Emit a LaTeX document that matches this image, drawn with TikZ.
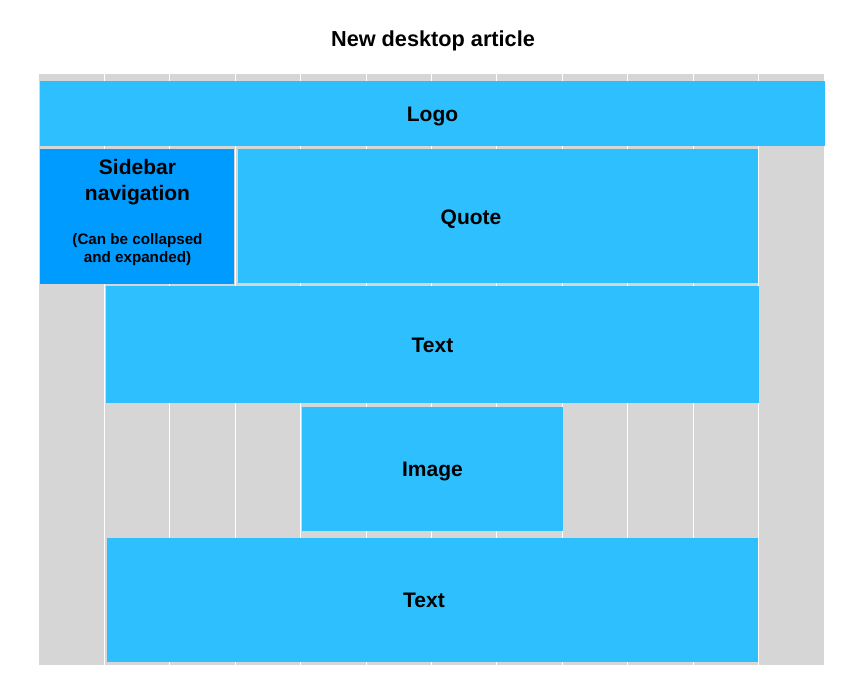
\documentclass[tikz,border=0pt]{standalone}
\usepackage{fontspec}
\setmainfont{Liberation Sans}
\definecolor{gridgray}{RGB}{214,214,214}
\definecolor{blockblue}{RGB}{46,191,255}
\definecolor{navblue}{RGB}{0,155,255}
\tikzset{
  block/.style={fill=blockblue, inner sep=0pt, text height=15pt, text depth=0pt, font=\fontsize{21}{26}\selectfont\bfseries},
  navblock/.style={block, fill=navblue},
  lbl/.style={inner sep=0pt, text height=15pt, text depth=0pt, font=\fontsize{21}{26}\selectfont\bfseries},
  navlbl/.style={inner sep=0pt, align=center, anchor=base, font=\fontsize{21}{26}\selectfont\bfseries}
}
\begin{document}
\begin{tikzpicture}[x=1pt,y=-1pt]
  \fill[white] (0,0) rectangle (859,672);
  \useasboundingbox (0,0) rectangle (859,672);
  \node[lbl, text height=15.5pt, font=\fontsize{21.7}{26}\selectfont\bfseries] (title) at (433,39) {New desktop article};
  % columns
  \fill[gridgray] (39,74) rectangle (824,665);
  \draw[white, line width=1pt]
    (104.4,74) -- (104.4,665)
    (169.8,74) -- (169.8,665)
    (235.3,74) -- (235.3,665)
    (300.7,74) -- (300.7,665)
    (366.1,74) -- (366.1,665)
    (431.5,74) -- (431.5,665)
    (496.9,74) -- (496.9,665)
    (562.3,74) -- (562.3,665)
    (627.6,74) -- (627.6,665)
    (693.1,74) -- (693.1,665)
    (758.4,74) -- (758.4,665);
  % blocks
  \node[block, minimum width=785pt, minimum height=65pt] (logo) at (432.5,113.5) {Logo};
  \node[navblock, minimum width=194pt, minimum height=135pt] (sidebar) at (137,216.5) {};
  \node[block, minimum width=520pt, minimum height=134pt] (quote) at (498,216) {};
  \node[block, minimum width=653pt, minimum height=117pt] (text1) at (432.5,344.5) {Text};
  \node[block, minimum width=261pt, minimum height=124pt] (image) at (432.5,469) {Image};
  \node[block, minimum width=651pt, minimum height=124pt] (text2) at (432.5,600) {};
  % labels
  \node[navlbl] (navtitle) at (137.5,200) {Sidebar\\navigation};
  \node[navlbl, font=\fontsize{15.2}{18}\selectfont\bfseries] (navnote) at (137.5,262) {(Can be collapsed\\and expanded)};
  \node[lbl] (quotelbl) at (471,217) {Quote};
  \node[lbl] (text2lbl) at (424,600) {Text};
\end{tikzpicture}
\end{document}
